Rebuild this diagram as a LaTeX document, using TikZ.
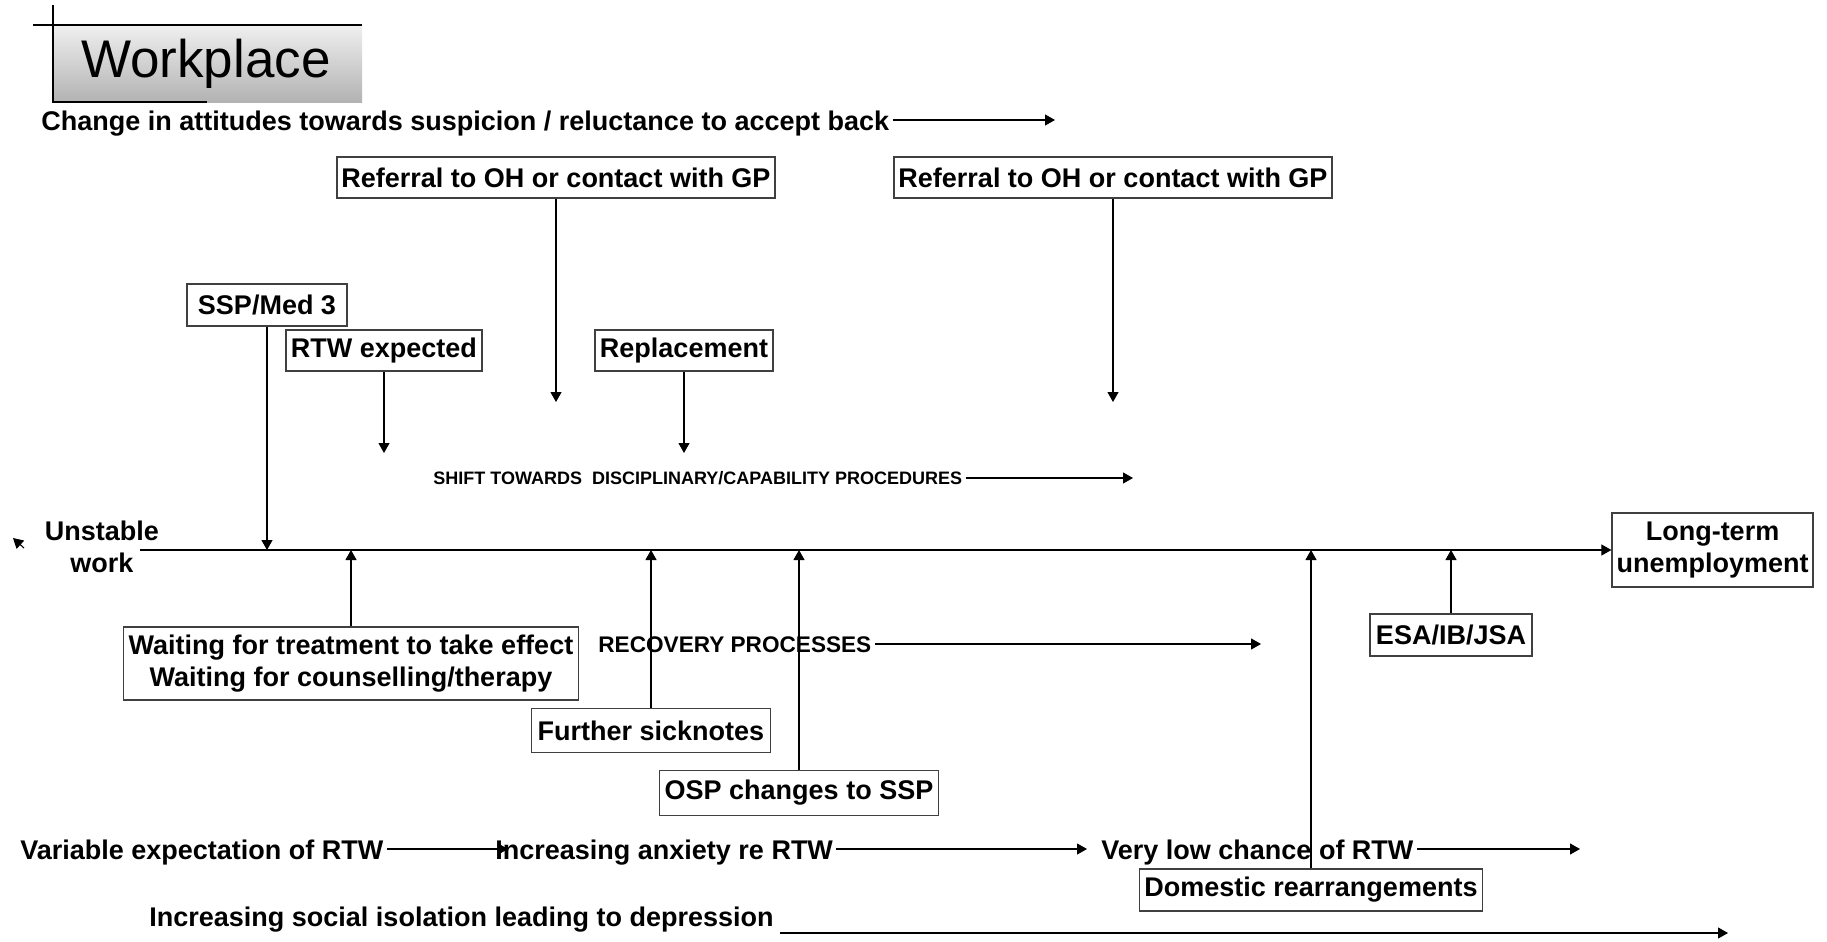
\documentclass[tikz,border=0pt]{standalone}
\usepackage{fontspec}
\setmainfont{Liberation Sans}
\usetikzlibrary{arrows.meta}
\tikzset{
  arr/.style={-{Triangle[width=5.5pt,length=5pt]}, line width=0.55pt},
  lbl/.style={font=\fontsize{13.5pt}{16.3pt}\selectfont\bfseries, inner sep=0pt, anchor=west},
  box/.style={draw=black!75, line width=0.6pt, font=\fontsize{13.5pt}{16.3pt}\selectfont\bfseries, inner sep=0pt, align=center},
  txtarr/.style={arr, shorten <=1.5pt},
}
\begin{document}
\begin{tikzpicture}[x=0.5pt,y=-0.5pt]
\useasboundingbox (0,0) rectangle (1827,942);
% Workplace title
\shade[top color=gray!12, bottom color=gray!60] (53,25) rectangle (362,102);
\node[font=\fontsize{26.5pt}{30pt}\selectfont, inner sep=0pt] (wp) at (206,64) {Workplace};
\draw[line width=0.6pt] (33,25) -- (362,25);
\draw[line width=0.6pt] (53,5) -- (53,102) -- (207,102);

% top text
\node[lbl] (chg) at (41,123.5) {Change in attitudes towards suspicion / reluctance to accept back};
\coordinate (chgE) at (1055,120);
\draw[txtarr] (chg.east |- chgE) -- (chgE);

% referral boxes
\node[box, minimum width=219pt, minimum height=20.5pt] (ref1) at (556,177.5) {Referral to OH or contact with GP};
\node[box, minimum width=219pt, minimum height=20.5pt] (ref2) at (1113,177.5) {Referral to OH or contact with GP};
\coordinate (ref1E) at (556,402);
\coordinate (ref2E) at (1113,402);
\draw[arr] (ref1.south) -- (ref1E);
\draw[arr] (ref2.south) -- (ref2E);

% SSP, RTW expected, Replacement
\node[box, minimum width=80pt, minimum height=21pt] (ssp) at (267,305) {SSP/Med 3};
\node[box, minimum width=98pt, minimum height=20.5pt] (rtw) at (384,350.5) {RTW expected};
\node[box, minimum width=89pt, minimum height=20.5pt] (repl) at (684,350.5) {Replacement};
\coordinate (rtwE) at (384,453);
\coordinate (replE) at (684,453);
\draw[arr] (rtw.south) -- (rtwE);
\draw[arr] (repl.south) -- (replE);

% shift text
\node[lbl, font=\fontsize{9pt}{11pt}\selectfont\bfseries] (shift) at (433,478) {SHIFT TOWARDS\ \ DISCIPLINARY/CAPABILITY PROCEDURES};
\coordinate (shiftE) at (1133,478);
\draw[txtarr] (shift.east) -- (shiftE);

% main line
\node[box, minimum width=100.5pt, minimum height=37pt] (lt) at (1712.5,550) {Long-term\\unemployment};
\coordinate (ml) at (140,550);
\draw[arr] (ml) -- (lt.west);
\draw[arr] (ssp.south) -- (ssp.south |- ml);

% unstable work
\node[lbl, anchor=center, align=center] (uw) at (102,547) {Unstable\\work};
\coordinate (uwA) at (24,548);
\coordinate (uwB) at (13,538);
\draw[arr] (uwA) -- (uwB);

% lower boxes
\node[box, minimum width=227.75pt, minimum height=36.5pt] (wait) at (351,663.5) {Waiting for treatment to take effect\\Waiting for counselling/therapy};
\node[box, minimum width=119.5pt, minimum height=22pt] (further) at (651,730.6) {Further sicknotes};
\node[box, minimum width=139.75pt, minimum height=22.3pt] (osp) at (799,793) {OSP changes to SSP};
\node[box, minimum width=81pt, minimum height=21pt] (esa) at (1451,635) {ESA/IB/JSA};
\node[box, minimum width=171.75pt, minimum height=21pt] (dom) at (1311,890) {Domestic rearrangements};
\draw[arr] (wait.north) -- (wait.north |- ml);
\draw[arr] (further.north) -- (further.north |- ml);
\draw[arr] (osp.north) -- (osp.north |- ml);
\draw[arr] (esa.north) -- (esa.north |- ml);
\draw[arr] (dom.north) -- (dom.north |- ml);

% recovery processes
\node[lbl, font=\fontsize{11.3pt}{13pt}\selectfont\bfseries] (rec) at (598,645) {RECOVERY PROCESSES};
\coordinate (recE) at (1261,644);
\draw[txtarr] (rec.east |- recE) -- (recE);

% bottom row
\node[lbl] (var) at (20,852.5) {Variable expectation of RTW};
\node[lbl] (inc) at (495,852.5) {Increasing anxiety re RTW};
\node[lbl] (vlow) at (1101,852.5) {Very low chance of RTW};
\coordinate (varE) at (508,849);
\coordinate (incE) at (1087,849);
\coordinate (vlowE) at (1580,849);
\draw[txtarr] (var.east |- varE) -- (varE);
\draw[txtarr] (inc.east |- incE) -- (incE);
\draw[txtarr] (vlow.east |- vlowE) -- (vlowE);

\node[lbl] (iso) at (149,919.5) {Increasing social isolation leading to depression};
\coordinate (isoS) at (780,933);
\coordinate (isoE) at (1728,933);
\draw[arr] (isoS) -- (isoE);
\end{tikzpicture}
\end{document}
